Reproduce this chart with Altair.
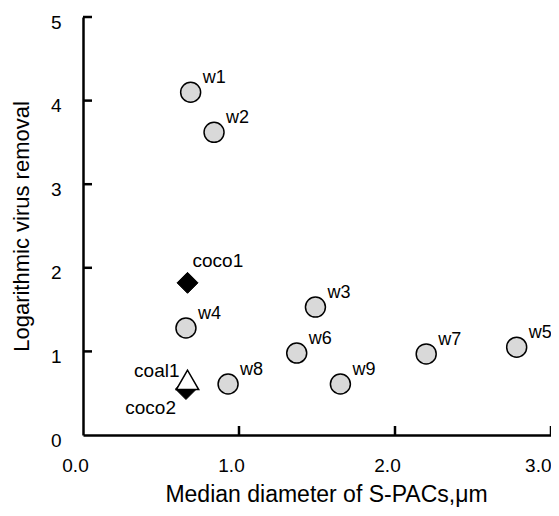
import altair as alt
import pandas as pd

# ---- data ----
names = ["w1", "w2", "w3", "w4", "w5", "w6", "w7", "w8", "w9", "coco1", "coco2", "coal1"]
diameter = [0.69, 0.84, 1.49, 0.66, 2.78, 1.37, 2.20, 0.93, 1.65, 0.67, 0.66, 0.67]
removal = [4.10, 3.62, 1.53, 1.28, 1.05, 0.98, 0.97, 0.61, 0.61, 1.82, 0.55, 0.66]
kind = ["wood"] * 9 + ["coco", "coco", "coal"]

x_tick_values = [1.0, 2.0, 3.0]
y_tick_values = [1, 2, 3, 4, 5]
x_label_values = [0.0, 1.0, 2.0, 3.0]
y_label_values = [0, 1, 2, 3, 4, 5]

df = pd.DataFrame({"name": names, "x": diameter, "y": removal, "kind": kind})
xt = pd.DataFrame({"x": x_tick_values})
yt = pd.DataFrame({"y": y_tick_values})

W, H = 468, 418
FONT = "Liberation Sans"

xs = alt.Scale(domain=[0, 3], nice=False, zero=False)
ys = alt.Scale(domain=[0, 5], nice=False, zero=False)

last_label = "datum.value >= 3"
xaxis = alt.Axis(
    values=x_label_values, format=".1f", title="Median diameter of S-PACs,\u03bcm",
    ticks=False, tickSize=0, grid=False, domainColor="black", domainWidth=2.5,
    labelFont=FONT, labelFontSize=19, labelColor="black", labelPadding=21,
    labelAlign={"condition": {"test": last_label, "value": "right"}, "value": "center"},
    labelOffset={"condition": {"test": last_label, "value": 0}, "value": -8},
    titleFont=FONT, titleFontSize=23, titleFontWeight="normal", titleColor="black",
    titleX=243, titleY=66, titleAlign="center", titleBaseline="alphabetic",
)
yaxis = alt.Axis(
    values=y_label_values, format="d", title="Logarithmic virus removal",
    ticks=False, tickSize=0, grid=False, domainColor="black", domainWidth=2.5,
    labelFont=FONT, labelFontSize=19, labelColor="black", labelPadding=22, labelOffset=5,
    titleFont=FONT, titleFontSize=22, titleFontWeight="normal", titleColor="black",
    titleX=-55, titleY=209, titleAngle=270, titleAlign="center", titleBaseline="alphabetic",
)

X = alt.X("x:Q", scale=xs, axis=xaxis)
Y = alt.Y("y:Q", scale=ys, axis=yaxis)

base = alt.Chart(df).encode(x=X, y=Y)

circles = base.transform_filter(alt.datum.kind == "wood").mark_point(
    shape="circle", filled=True, fill="#d9d9d9", stroke="black", strokeWidth=1.5,
    size=400, opacity=1, fillOpacity=1)
diamonds = base.transform_filter(alt.datum.kind == "coco").mark_point(
    shape="diamond", filled=True, fill="black", stroke="black", strokeWidth=1,
    size=440, opacity=1)
triangle = base.transform_filter(alt.datum.kind == "coal").mark_point(
    shape="triangle-up", filled=True, fill="white", stroke="black", strokeWidth=1.5,
    size=500, opacity=1, fillOpacity=1)

def label(filter_expr, size=18, **kw):
    return base.transform_filter(filter_expr).mark_text(
        font=FONT, fontSize=size, color="black", baseline="alphabetic", **kw
    ).encode(text="name:N")

lab_w = label(alt.datum.kind == "wood", align="left", dx=12, dy=-9)
lab_coco1 = label(alt.datum.name == "coco1", size=19, align="left", dx=5, dy=-16)
lab_coal1 = label(alt.datum.name == "coal1", size=19, align="right", dx=-8, dy=-3)
lab_coco2 = label(alt.datum.name == "coco2", size=19, align="right", dx=-10, dy=25)

xticks = alt.Chart(xt).mark_rule(color="black", strokeWidth=2.5).encode(
    x=X, y=alt.value(H), y2=alt.value(H - 9))
yticks = alt.Chart(yt).mark_rule(color="black", strokeWidth=2.5).encode(
    y=Y, x=alt.value(0), x2=alt.value(9))

chart = alt.layer(
    xticks, yticks, circles, diamonds, triangle, lab_w, lab_coco1, lab_coal1, lab_coco2
).properties(
    width=W, height=H,
    autosize=alt.AutoSizeParams(type="none"),
    padding={"left": 75, "top": 9, "right": 0, "bottom": 73},
    background="white",
).configure_view(stroke=None)

chart.save("out.html", embed_options={"renderer": "svg", "actions": False})
